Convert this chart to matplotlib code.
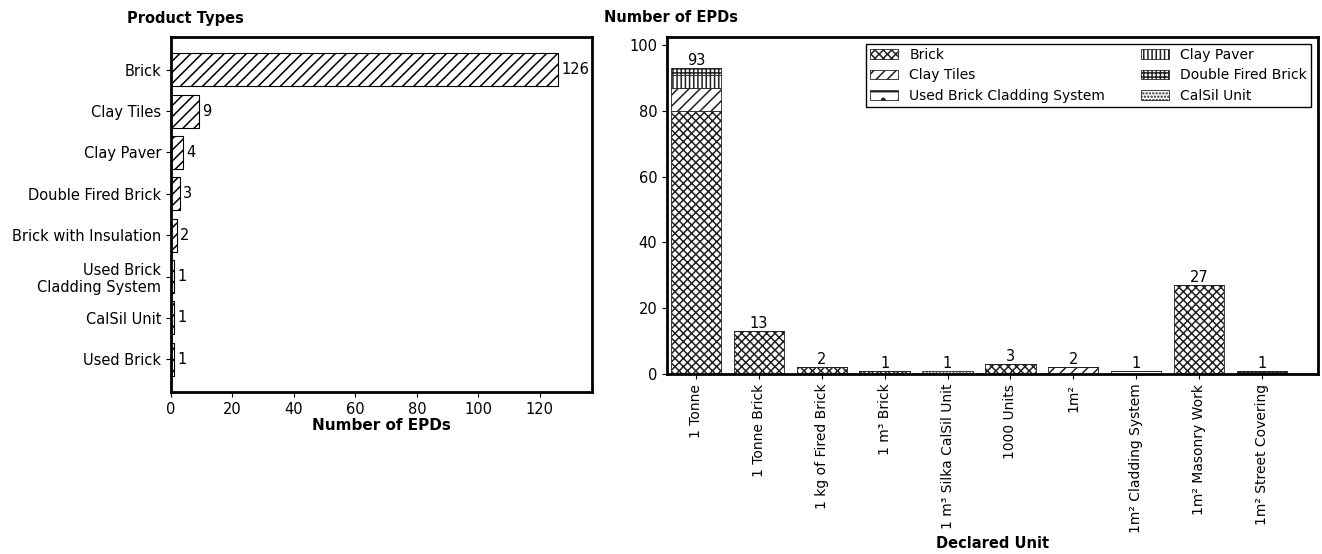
import matplotlib
matplotlib.use("Agg")
import matplotlib.pyplot as plt
import numpy as np

# Left chart data
product_types = ["Brick", "Clay Tiles", "Clay Paver", "Double Fired Brick",
                 "Brick with Insulation", "Used Brick\nCladding System", "CalSil Unit", "Used Brick"]
product_counts = [126, 9, 4, 3, 2, 1, 1, 1]

# Right chart data
declared_units = ["1 Tonne", "1 Tonne Brick", "1 kg of Fired Brick", "1 m³ Brick",
                  "1 m³ Silka CalSil Unit", "1000 Units", "1m²", "1m² Cladding System",
                  "1m² Masonry Work", "1m² Street Covering"]
series_names = ["Brick", "Clay Tiles", "Used Brick Cladding System", "Clay Paver",
                "Double Fired Brick", "CalSil Unit"]
brick = [80, 13, 2, 1, 0, 3, 0, 0, 27, 0]
clay_tiles = [7, 0, 0, 0, 0, 0, 2, 0, 0, 0]
used_brick_cladding = [0, 0, 0, 0, 0, 0, 0, 1, 0, 0]
clay_paver = [4, 0, 0, 0, 0, 0, 0, 0, 0, 0]
double_fired = [2, 0, 0, 0, 0, 0, 0, 0, 0, 1]
calsil = [0, 0, 0, 0, 1, 0, 0, 0, 0, 0]
series_values = [brick, clay_tiles, used_brick_cladding, clay_paver, double_fired, calsil]
hatches = ["xxxx", "///", "-.", "||||", "++++", "....."]

plt.rcParams['font.family'] = ['DejaVu Sans']
plt.rcParams['hatch.linewidth'] = 1.1

fig = plt.figure(figsize=(13.22, 5.54), dpi=100)
ax1 = fig.add_axes([171/1322, 1-392/554, (592-171)/1322, (392-37)/554])
ax2 = fig.add_axes([667/1322, 1-374/554, (1318-667)/1322, (374-37)/554])

# Left horizontal bar chart
y = np.arange(len(product_types))
ax1.barh(y, product_counts, height=0.8, color="white", edgecolor="black",
         hatch="///", linewidth=0.8)
ax1.invert_yaxis()
ax1.set_yticks(y)
ax1.set_yticklabels(product_types, fontsize=10.5)
ax1.set_xlim(0, 137)
ax1.set_xticks([0, 20, 40, 60, 80, 100, 120])
ax1.tick_params(axis='x', labelsize=10.5)
for yi, v in zip(y, product_counts):
    ax1.text(v + 1, yi, str(v), va="center", ha="left", fontsize=10.5)
ax1.set_xlabel("Number of EPDs", fontsize=11, fontweight="bold", labelpad=1)
for s in ax1.spines.values():
    s.set_linewidth(2)

# Right stacked bar chart
x = np.arange(len(declared_units))
bottom = np.zeros(len(declared_units))
for name, vals, h in zip(series_names, series_values, hatches):
    vals = np.array(vals, dtype=float)
    ax2.bar(x, vals, width=0.8, bottom=bottom, color="white", edgecolor="#222222",
            hatch=h, linewidth=0.6, label=name)
    bottom += vals
for xi, tot in zip(x, bottom):
    ax2.text(xi, tot, str(int(tot)), ha="center", va="bottom", fontsize=10.5)
ax2.set_xticks(x)
ax2.set_xticklabels(declared_units, rotation=90, fontsize=10)
ax2.set_xlim(-0.46, 9.89)
ax2.set_ylim(0, 102.4)
ax2.set_yticks([0, 20, 40, 60, 80, 100])
ax2.tick_params(axis='y', labelsize=10.5)
ax2.set_xlabel("Declared Unit", fontsize=10.5, fontweight="bold", labelpad=2)
for s in ax2.spines.values():
    s.set_linewidth(2)
leg = ax2.legend(ncol=2, loc="upper right", fontsize=10, fancybox=False,
                 edgecolor="black", handlelength=2.0, columnspacing=2.6,
                 borderpad=0.3, labelspacing=0.45, framealpha=1)
leg.get_frame().set_linewidth(1.0)

fig.text(127/1322, 1-18/554, "Product Types", fontsize=10.5, fontweight="bold",
         ha="left", va="center")
fig.text(604/1322, 1-18/554, "Number of EPDs", fontsize=10.5, fontweight="bold",
         ha="left", va="center")

fig.savefig("out.png", dpi=100)
